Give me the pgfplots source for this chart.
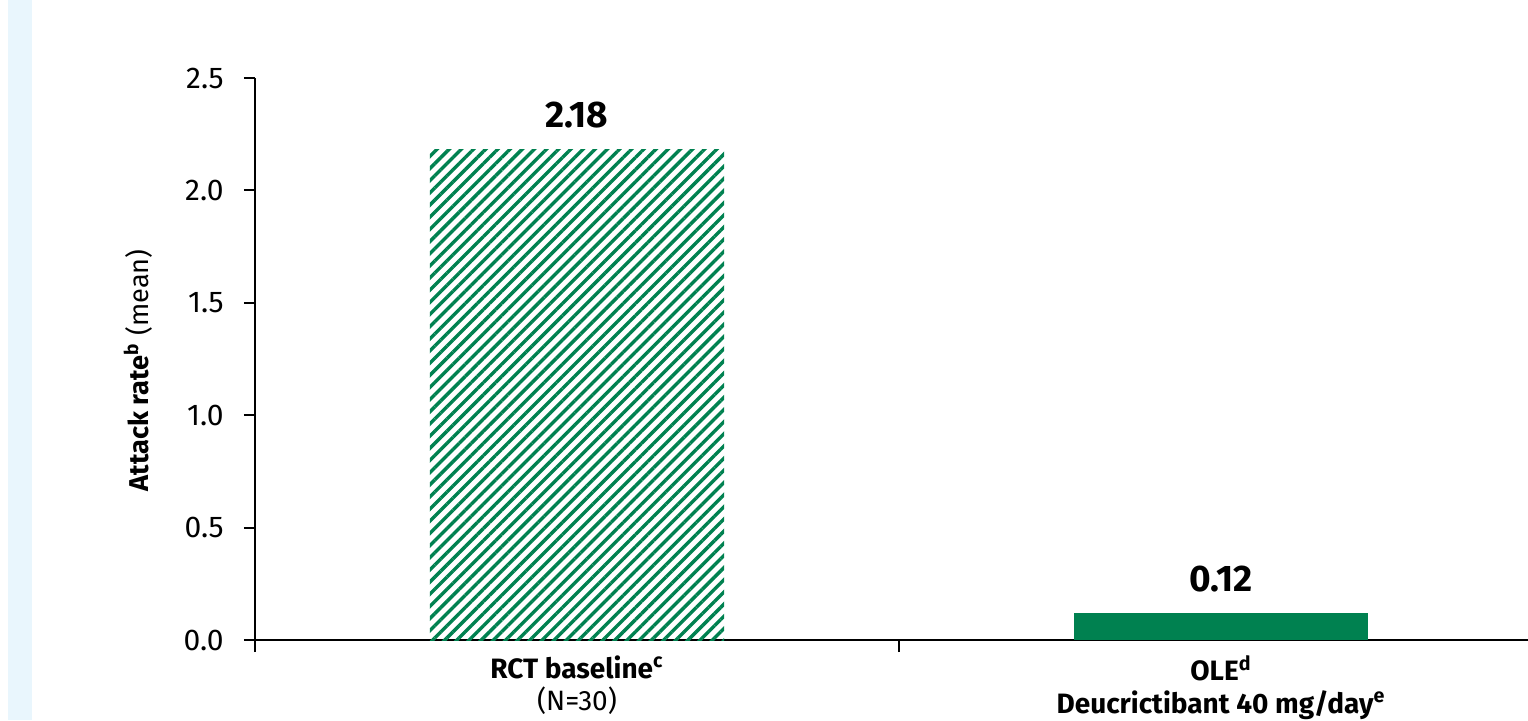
\documentclass[border=0pt]{standalone}
\usepackage{pgfplots}
\pgfplotsset{compat=1.18}
\usepackage{fontspec}
\setmainfont{Fira Sans}
\usetikzlibrary{patterns.meta}
\definecolor{barGreen}{HTML}{008150}
\definecolor{stripBlue}{HTML}{E9F6FD}

\begin{document}
\begin{tikzpicture}
\path[use as bounding box] (-127.5pt,-40pt) rectangle (636.5pt,320pt);
\clip (-127.5pt,-40pt) rectangle (636.5pt,320pt);
\fill[stripBlue] (-123.5pt,-40pt) rectangle (-111.5pt,320pt);
\begin{axis}[
  at={(0pt,0pt)}, anchor=south west,
  scale only axis,
  width=644pt, height=281pt,
  xmin=-0.5, xmax=1.5,
  ymin=0, ymax=2.5,
  axis x line*=bottom, axis y line*=left,
  axis line style={line width=1.1pt, black},
  tick align=outside,
  major tick length=5.5pt,
  minor tick length=6pt,
  every tick/.style={line width=1pt, black},
  ytick={0,0.5,1,1.5,2,2.5},
  yticklabel style={/pgf/number format/fixed, /pgf/number format/fixed zerofill,
    /pgf/number format/precision=1, /pgf/number format/assume math mode=true,
    font=\fontsize{15}{17}\selectfont, anchor=east, inner sep=0pt, xshift=-10pt},
  xtick={0,1},
  major x tick style={draw=none},
  minor xtick={-0.5,0.5,1.5},
  xticklabels={
    {{\bfseries RCT baseline\textsuperscript{c}}\\(N=30)},
    {{\bfseries OLE\textsuperscript{d}}\\{\bfseries Deucrictibant 40 mg/day\textsuperscript{e}}}
  },
  xticklabel style={align=center, anchor=north, inner sep=0pt, yshift=-2pt,
    font=\fontsize{14}{16.2}\selectfont},
  ylabel={{\bfseries Attack rate\textsuperscript{b}} (mean)},
  ylabel style={at={(axis description cs:-0.0908,0.480)}, anchor=center,
    font=\fontsize{13.6}{15}\selectfont},
  nodes near coords={\pgfmathprintnumber[fixed,fixed zerofill,precision=2,assume math mode=true]{\pgfplotspointmeta}},
  every node near coord/.append style={anchor=base, inner sep=0pt, yshift=11pt,
    font=\bfseries\fontsize{18.5}{20}\selectfont, black},
  clip=false,
]
% Hatched bar: RCT baseline
\addplot[ybar, bar width=0.457, bar shift=0pt, draw=none,
  pattern={Lines[angle=45, distance=4.3pt, line width=1.7pt]}, pattern color=barGreen]
  coordinates {(0,2.18)};
% Solid bar: OLE
\addplot[ybar, bar width=0.457, bar shift=0pt, draw=none, fill=barGreen]
  coordinates {(1,0.12)};
\end{axis}
\end{tikzpicture}
\end{document}
